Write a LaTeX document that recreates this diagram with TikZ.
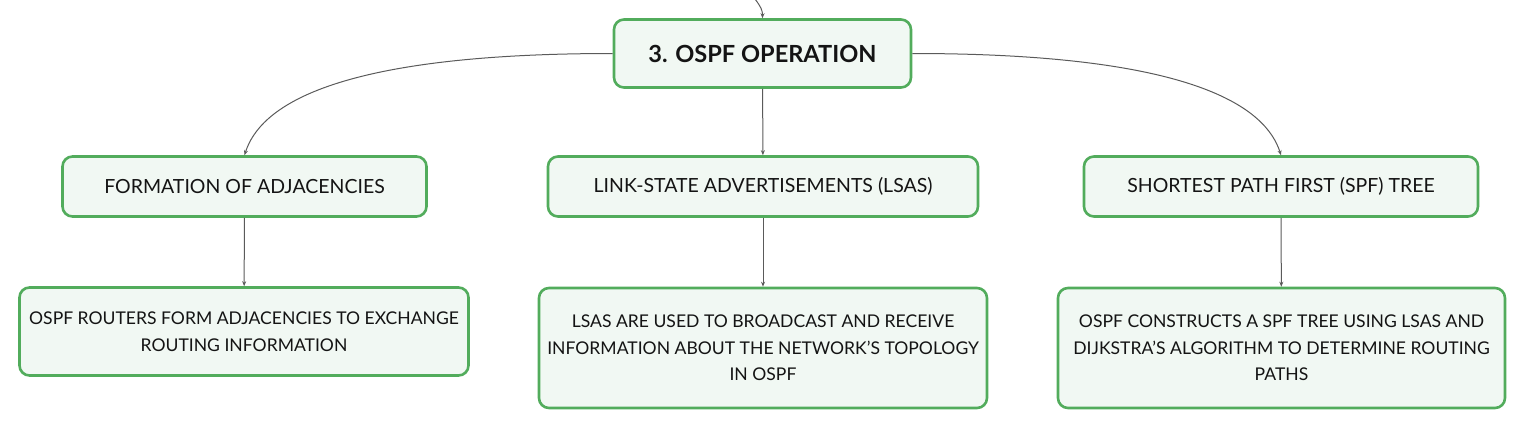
\documentclass[tikz,border=0pt]{standalone}
\usepackage{fontspec}
\setmainfont{Lato}
\usetikzlibrary{arrows.meta}

\begin{document}
\begin{tikzpicture}[x=1pt, y=-1pt,
  box/.style={draw=boxgreen, fill=boxfill, line width=2.6pt, rounded corners=10pt,
    inner sep=0pt, align=center, text=textblack, font=\fontsize{17.55}{26.5}\selectfont},
  topic/.style={box, minimum height=60pt, font=\fontsize{19.5}{24}\selectfont},
  link/.style={draw=linkgray, line width=1pt, -{Stealth[length=5pt, width=4pt]}}]
  \definecolor{boxgreen}{RGB}{82,172,92}
  \definecolor{boxfill}{RGB}{241,248,243}
  \definecolor{textblack}{RGB}{20,20,20}
  \definecolor{linkgray}{RGB}{90,90,90}
  \useasboundingbox (0, 0) rectangle (1527, 429);

  % draw main topic
  \node [box, minimum width=297pt, minimum height=68pt, font=\fontsize{23.6}{28}\bfseries\selectfont] (op) at (762.5, 53.5) {3. OSPF OPERATION};
  \coordinate (in) at (755, -1);

  % draw subtopics
  \node [topic, minimum width=364pt] (adj) at (244.5, 186.5) {FORMATION OF ADJACENCIES};
  \node [topic, minimum width=430pt] (lsa) at (763, 186.5) {LINK-STATE ADVERTISEMENTS (LSAS)};
  \node [topic, minimum width=394pt] (spf) at (1281, 186.5) {SHORTEST PATH FIRST (SPF) TREE};

  % draw details
  \node [box, minimum width=449pt, minimum height=88pt] (adjd) at (244, 331.5) {OSPF ROUTERS FORM ADJACENCIES TO EXCHANGE\\ROUTING INFORMATION};
  \node [box, minimum width=448pt, minimum height=120pt] (lsad) at (763, 348) {LSAS ARE USED TO BROADCAST AND RECEIVE\\INFORMATION ABOUT THE NETWORK'S TOPOLOGY\\IN OSPF};
  \node [box, minimum width=447pt, minimum height=120pt] (spfd) at (1281.5, 348) {OSPF CONSTRUCTS A SPF TREE USING LSAS AND\\DIJKSTRA'S ALGORITHM TO DETERMINE ROUTING\\PATHS};

  % draw connectors
  \draw [link] (in) .. controls +(6, 8) and +(0, -8) .. (op.north);
  \draw [link] (op.west) .. controls +(-284, 0) and +(15, -47) .. (adj.north);
  \draw [link] (op.east) .. controls +(284, 0) and +(-15, -47) .. (spf.north);
  \draw [link] (op) -- (lsa);
  \draw [link] (adj) -- (adjd);
  \draw [link] (lsa) -- (lsad);
  \draw [link] (spf) -- (spfd);
\end{tikzpicture}
\end{document}
